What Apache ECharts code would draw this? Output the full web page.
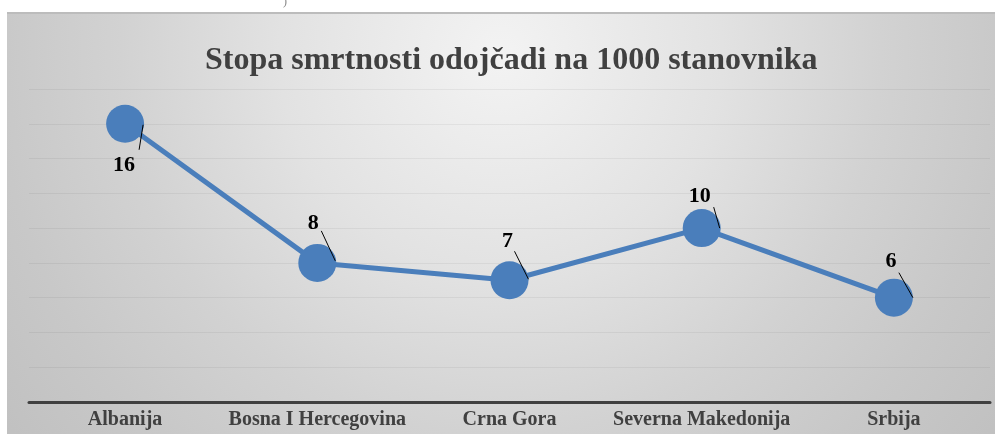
<!DOCTYPE html>
<html>
<head>
<meta charset="utf-8">
<script src="https://cdn.jsdelivr.net/npm/echarts@6/dist/echarts.min.js"></script>
<style>html,body{margin:0;padding:0;background:#fff;}#c{width:995px;height:434px;}</style>
</head>
<body>
<div id="c"></div>
<script>
var title = 'Stopa smrtnosti odojčadi na 1000 stanovnika';
var categories = ['Albanija', 'Bosna I Hercegovina', 'Crna Gora', 'Severna Makedonija', 'Srbija'];
var values = [16, 8, 7, 10, 6];
var yMin = 0, yMax = 18, yStep = 2;

// style: label offsets and leader-line offsets relative to each point (pixels)
var labelOffsets = [[-1, 42], [-4, -40], [-2, -39], [-2, -32], [-3, -36]];
var leaderOffsets = [[[18, 1], [14, 26]], [[4, -32], [18, -2]], [[5, -29], [19, -1]], [[12, -21], [18, 0]], [[5, -25], [19, 0]]];

var serif = '"Liberation Serif", "Times New Roman", serif';
var chart = echarts.init(document.getElementById('c'), null, {renderer: 'canvas'});

var lineData = values.map(function (v, i) {
  return {
    value: v,
    label: {offset: labelOffsets[i]}
  };
});

chart.setOption({
  animation: false,
  graphic: [
    {
      type: 'rect', z: -10, left: 7, top: 12,
      shape: {width: 988, height: 422},
      style: {
        fill: new echarts.graphic.RadialGradient(0.5, 0.1, 1.5, [
          {offset: 0, color: '#f3f3f3'},
          {offset: 0.35, color: '#e2e2e2'},
          {offset: 0.6, color: '#d2d2d2'},
          {offset: 0.8, color: '#c8c8c8'},
          {offset: 1, color: '#c0c0c0'}
        ])
      }
    },
    {
      type: 'rect', z: -9, left: 7, top: 12,
      shape: {width: 988, height: 2},
      style: {fill: '#bcbcbc'}
    },
    {
      type: 'text', left: 283, top: -4,
      style: {text: ')', font: '12px ' + serif, fill: '#888'}
    }
  ],
  title: {
    text: title,
    left: 200,
    top: 40,
    textStyle: {fontFamily: serif, fontWeight: 'bold', fontSize: 32, color: '#404040'}
  },
  grid: {left: 29, right: 5, top: 89, bottom: 32, containLabel: false},
  xAxis: {
    type: 'category',
    data: categories,
    boundaryGap: true,
    axisLine: {show: true, lineStyle: {color: '#404040', width: 3}},
    axisTick: {show: false},
    axisLabel: {interval: 0, fontFamily: serif, fontWeight: 'bold', fontSize: 20, color: '#404040', margin: 8}
  },
  yAxis: {
    type: 'value',
    min: yMin, max: yMax, interval: yStep,
    axisLine: {show: false},
    axisTick: {show: false},
    axisLabel: {show: false},
    splitLine: {show: true, lineStyle: {color: 'rgba(0,0,0,0.05)', width: 1}}
  },
  series: [
    {
      type: 'line',
      data: lineData,
      symbol: 'circle',
      symbolSize: 38,
      lineStyle: {color: '#4a7ebb', width: 5},
      itemStyle: {color: '#4a7ebb'},
      label: {
        show: true,
        position: 'inside',
        fontFamily: serif, fontWeight: 'bold', fontSize: 22, color: '#000'
      },
      z: 2
    },
    {
      type: 'custom',
      z: 5,
      silent: true,
      data: values.map(function (v, i) { return [i, v]; }),
      renderItem: function (params, api) {
        var i = params.dataIndex;
        var p = api.coord([api.value(0), api.value(1)]);
        var o = leaderOffsets[i];
        return {
          type: 'line',
          shape: {x1: p[0] + o[0][0], y1: p[1] + o[0][1], x2: p[0] + o[1][0], y2: p[1] + o[1][1]},
          style: {stroke: '#000', lineWidth: 1}
        };
      }
    }
  ]
});
</script>
</body>
</html>
